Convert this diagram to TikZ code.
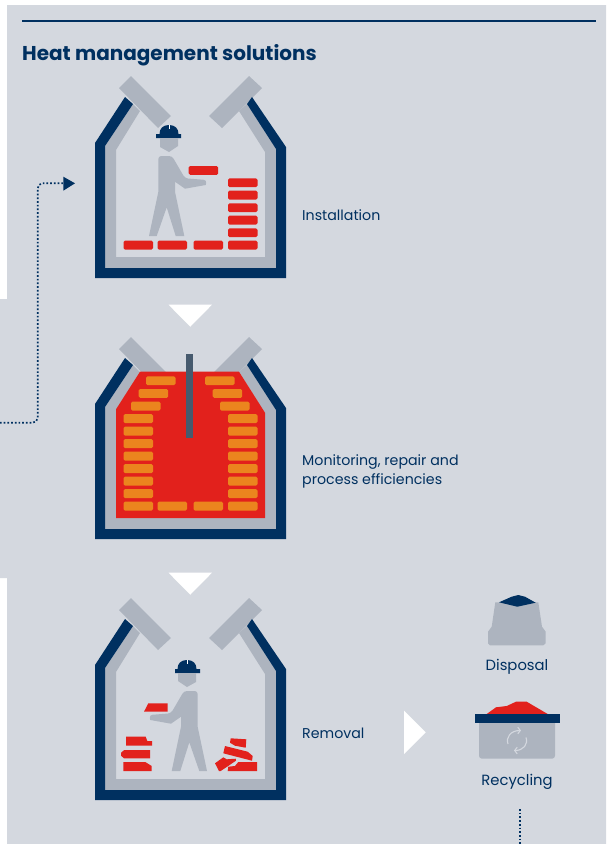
\documentclass[tikz,border=0pt]{standalone}
\usepackage{fontspec}
\setmainfont{Poppins}
\usetikzlibrary{arrows.meta}
\definecolor{navyblue}{RGB}{0,48,96}
\definecolor{panelgrey}{RGB}{212,216,223}
\definecolor{liningrey}{RGB}{173,180,191}
\definecolor{hotred}{RGB}{226,33,28}
\definecolor{hotorange}{RGB}{235,133,30}
\definecolor{lancegrey}{RGB}{70,90,110}
\newcommand{\housewalls}[1]{%
  \begin{scope}[shift={(0,#1)}]
    \fill[lining] (119,88) -- (131,76) -- (171,116) -- (158,128) -- cycle;
    \fill[lining] (262,88) -- (249,76) -- (209,116) -- (222,128) -- cycle;
    \fill[lining] (105,268) -- (105,146) -- (133,104) -- (140,111) -- (116,150) -- (116,257)
      -- (265,257) -- (265,152) -- (239,111) -- (247,104) -- (276,149) -- (276,268) -- cycle;
    \fill[wall] (95,278) -- (95,143) -- (125,97) -- (133,104) -- (105,146) -- (105,268)
      -- (276,268) -- (276,149) -- (247,104) -- (252,97) -- (286,147) -- (286,278) -- cycle;
  \end{scope}}
\newcommand{\workerman}{%
  \fill[wall] (156,134) -- (159.5,134) .. controls (159.5,128.5) and (163,125) .. (169,125)
    .. controls (175,125) and (178.5,128.5) .. (178.5,134) -- (181,134) -- (181,138) -- (156,138) -- cycle;
  \draw[white,line width=0.5pt] (169,125) -- (169,129);
  \fill[lining] (160,138) -- (178,138) -- (178,146) -- (169,152) -- (160,147) -- cycle;
  \fill[lining,rounded corners=3pt] (158.3,192) -- (158.3,156) -- (172,156) -- (185,178.3) -- (206.7,180)
    [sharp corners] -- (205.7,185) -- (185,188.7) -- (175,181.7) -- (175,191.7) -- (184.3,236) -- (175.7,236)
    -- (166.7,207.3) -- (156.7,236) -- (149,236) -- cycle;}
\begin{document}
\begin{tikzpicture}[
    x=1pt,y=-1pt,
    wall/.style={fill=navyblue},
    lining/.style={fill=liningrey},
    brick/.style={rounded corners=1.5pt},
    cold/.style={brick,fill=hotred},
    hot/.style={brick,fill=hotorange},
    rubble/.style={fill=hotred},
    marker/.style={fill=white},
    stagelabel/.style={anchor=west,align=left,text=navyblue,font=\fontsize{14.2}{19}\selectfont,inner sep=0pt},
    binlabel/.style={anchor=center,text=navyblue,font=\fontsize{14.8}{16}\selectfont,inner sep=0pt},
    loopline/.style={navyblue,line width=1.7pt,dash pattern=on 1.7pt off 2pt,rounded corners=5pt}
  ]
    \useasboundingbox (0,0) rectangle (606,844);
    \fill[white] (0,0) rectangle (606,844);
    \fill[panelgrey] (7,5) -- (606,5) -- (606,844) -- (7,844) -- (7,578) -- (0,578) -- (0,299) -- (7,299) -- cycle;

    \draw[navyblue,line width=2pt] (22,21.3) -- (596,21.3);
    \node[anchor=base west,inner sep=0pt,text=navyblue,font=\fontsize{20}{24}\selectfont\bfseries] (title) at (22,60) {Heat management solutions};

    % installation
    \housewalls{0}
    \workerman
    \foreach \x in {123.5,157.5,193.5,228} \fill[cold] (\x,240.7) rectangle ++(29.5,8.8);
    \foreach \y in {178.3,190.7,203.3,215.7,228.3} \fill[cold] (228,\y) rectangle ++(29.5,8.8);
    \fill[cold] (188.7,166) rectangle ++(29.5,8.8);
    \node[stagelabel] (install) at (302,215) {Installation};

    \fill[marker] (168.5,304.7) -- (212,304.7) -- (190.3,326.7) -- cycle;

    % monitoring
    \housewalls{261}
    \fill[hotred] (116,518) -- (265,518) -- (265,412.7) -- (239,371.7) -- (140,371.7) -- (116,409.3) -- cycle;
    \foreach \y in {414.2,426.7,439.2,451.7,464.2,476.7,489.2,501.7} {
      \fill[hot] (123.5,\y) rectangle ++(29.5,8.8);
      \fill[hot] (228,\y) rectangle ++(29.5,8.8);
    }
    \foreach \x/\y in {157.5/501.7,193.5/501.7,131/401.7,138.7/389,146/376.3,220/401.7,212.7/389,205/376.3}
      \fill[hot] (\x,\y) rectangle ++(29.5,8.8);
    \fill[lancegrey] (186,354) rectangle (193,437.7);
    \node[stagelabel] (monitor) at (302,471) {Monitoring, repair and\\process efficiencies};

    \fill[marker] (168.5,572.7) -- (212,572.7) -- (190.3,594.7) -- cycle;

    % removal
    \housewalls{522}
    \begin{scope}[xshift=356pt,yshift=-535pt,xscale=-1]
      \workerman
    \end{scope}
    \fill[rubble] (148.3,703.3) -- (167.7,703.3) -- (167.7,711.7) -- (144,711.7) -- cycle;
    \fill[rubble] (126,736.7) -- (145.7,736.7) -- (147.3,741) -- (152,741) -- (152,745.7) -- (126,745.7) -- cycle;
    \fill[rubble] (121,752.7) -- (124.3,750) -- (150,750) -- (150,758.3) -- (124,758.3) -- (121,755.7) -- cycle;
    \fill[rubble] (123.3,762) -- (145.3,762) -- (151.7,766) -- (151.7,771) -- (123.3,771) -- cycle;
    \fill[rubble] (230.7,738.3) -- (246.3,739.3) -- (245.7,747.7) -- (235,745.7) -- (230,742.7) -- cycle;
    \fill[rubble] (225,746) -- (247.7,751.7) -- (252.7,756) -- (252,760.7) -- (223.3,753.3) -- cycle;
    \fill[rubble] (215,763.3) -- (223.3,757.3) -- (226.7,759.3) -- (235.7,758.7) -- (236,760.7) -- (220.7,771) -- (219,771) -- cycle;
    \fill[rubble] (228.3,766.7) -- (235,766) -- (238.3,762) -- (257,762) -- (257,771) -- (227.7,771) -- cycle;
    \node[stagelabel] (removal) at (302,733.5) {Removal};

    \fill[marker] (404,710.7) -- (425.7,732.3) -- (404,754) -- cycle;

    % disposal
    \fill[lining] (495.3,602.3) -- (538.3,602.3) -- (542,626.7) -- (545.7,631.7) -- (545.7,643.3) -- (543.3,645.3)
      -- (490,645.3) -- (488,643.3) -- (488,631.7) -- (491.7,626.7) -- cycle;
    \fill[wall] (499,602.3) -- (511.7,596.7) -- (518.3,595) -- (525,596.7) -- (535.7,602.7) -- (517.3,606.7) -- cycle;
    \node[binlabel] (disposal) at (517,667) {Disposal};

    % recycling
    \fill[hotred] (486.7,714) -- (496,707.3) -- (506.7,706) -- (516,701.7) -- (526.7,701.7) -- (547.7,714) -- cycle;
    \fill[lining,rounded corners=3pt] (479,720) -- (555,720) -- (555,758.7) -- (479,758.7) -- cycle;
    \fill[wall] (475,714) rectangle (560,723);
    \draw[panelgrey,line width=1.1pt,-{Straight Barb[length=2.5pt,width=6.5pt]}] (508,744) .. controls (505.5,737) and (511,730.5) .. (521,730.5);
    \draw[panelgrey,line width=1.1pt,-{Straight Barb[length=2.5pt,width=6.5pt]}] (526,737.5) .. controls (528.5,744.5) and (523,750.5) .. (514,750.5);
    \node[binlabel] (recycling) at (517,782) {Recycling};

    % loop back
    \coordinate (loopin) at (0,422.7);
    \coordinate (loopup) at (37.7,422.7);
    \coordinate (looptop) at (37.7,183.3);
    \coordinate (loopend) at (75,183.3);
    \coordinate (recycleout) at (520.3,809);
    \coordinate (recycleend) at (520.3,844);
    \draw[loopline] (loopin) -- (loopup) -- (looptop) -- (64,183.3);
    \fill[navyblue] (63.3,176.7) -- (loopend) -- (63.3,190.7) -- cycle;
    \draw[loopline] (recycleout) -- (recycleend);
  \end{tikzpicture}
\end{document}
